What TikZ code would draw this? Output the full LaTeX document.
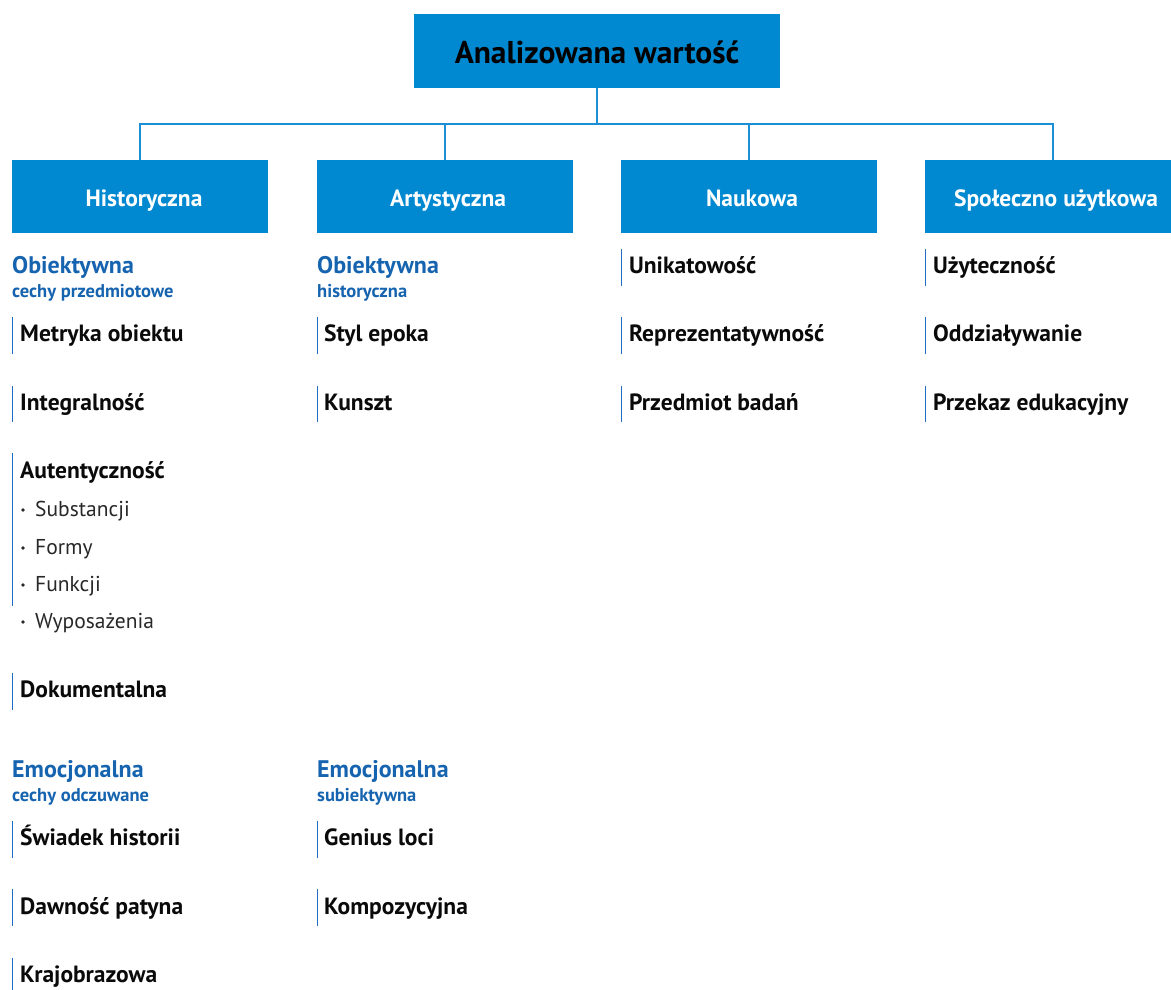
\documentclass[tikz,border=0pt]{standalone}
\usepackage{fontspec}
\setmainfont{PT Sans}
\definecolor{boxblue}{RGB}{0,137,209}
\definecolor{lineblue}{RGB}{26,143,214}
\definecolor{secblue}{RGB}{22,100,176}
\definecolor{barblue}{RGB}{30,110,195}
\definecolor{itemtxt}{RGB}{10,10,10}
\definecolor{subtxt}{RGB}{40,40,40}
\begin{document}
\begin{tikzpicture}[x=1pt,y=-1pt,
  topbox/.style={fill=boxblue,minimum width=366pt,minimum height=74pt,inner sep=0pt},
  headbox/.style={fill=boxblue,minimum width=256pt,minimum height=73pt,inner sep=0pt},
  toptext/.style={anchor=base,inner sep=0pt,text=black,font=\fontsize{31.5}{34}\selectfont\bfseries},
  headtext/.style={anchor=base,inner sep=0pt,text=white,font=\fontsize{23.5}{26}\selectfont\bfseries},
  conn/.style={draw=lineblue,line width=2.4pt},
  sectitle/.style={anchor=base west,inner sep=0pt,text=secblue,font=\fontsize{24}{26}\selectfont\bfseries},
  secsub/.style={anchor=base west,inner sep=0pt,text=secblue,font=\fontsize{18.5}{20}\selectfont\bfseries},
  itemtext/.style={anchor=base west,inner sep=0pt,text=itemtxt,font=\fontsize{23.5}{26}\selectfont\bfseries},
  subitem/.style={anchor=base west,inner sep=0pt,text=subtxt,font=\fontsize{21.5}{24}\selectfont},
  bulletdot/.style={circle,fill=subtxt,inner sep=0pt,minimum size=3.6pt},
  bar/.style={draw=barblue,line width=1.5pt}
]
\clip (0,0) rectangle (1171,989);
\fill[white] (0,0) rectangle (1171,989);

% top box
\node[topbox] (top) at (597,51) {};
\node[toptext] (toplabel) at (597,63) {Analizowana wartość};
% headers
\node[headbox] (h1) at (140,196.5) {};
\node[headbox] (h2) at (445,196.5) {};
\node[headbox] (h3) at (749,196.5) {};
\node[headbox] (h4) at (1053,196.5) {};
\node[headtext] (t1) at (144,206) {Historyczna};
\node[headtext] (t2) at (448,206) {Artystyczna};
\node[headtext] (t3) at (752,206) {Naukowa};
\node[headtext] (t4) at (1056,206) {Społeczno użytkowa};

% connectors
\coordinate (bus) at (597,124);
\draw[conn] (top.south) -- (bus);
\draw[conn] (h1.north) |- (bus) -| (h4.north);
\draw[conn] (h2.north) -- (h2.north |- bus);
\draw[conn] (h3.north) -- (h3.north |- bus);

% column 1
\node[sectitle] (s1a) at (12,273) {Obiektywna};
\node[secsub] (s1b) at (12,297) {cechy przedmiotowe};
\node[itemtext] (i11) at (20,341) {Metryka obiektu};
\node[itemtext] (i12) at (20,410) {Integralność};
\node[itemtext] (i13) at (20,478) {Autentyczność};
\node[bulletdot] (b1) at (23,510) {};
\node[subitem] (u1) at (35,516) {Substancji};
\node[bulletdot] (b2) at (23,548) {};
\node[subitem] (u2) at (35,554) {Formy};
\node[bulletdot] (b3) at (23,585) {};
\node[subitem] (u3) at (35,591) {Funkcji};
\node[bulletdot] (b4) at (23,622) {};
\node[subitem] (u4) at (35,628) {Wyposażenia};
\node[itemtext] (i14) at (20,697) {Dokumentalna};
\node[sectitle] (s1c) at (12,777) {Emocjonalna};
\node[secsub] (s1d) at (12,801) {cechy odczuwane};
\node[itemtext] (i15) at (20,845) {Świadek historii};
\node[itemtext] (i16) at (20,914) {Dawność patyna};
\node[itemtext] (i17) at (20,982) {Krajobrazowa};
\draw[bar] (12.5,317) -- (12.5,354);
\draw[bar] (12.5,386) -- (12.5,422);
\draw[bar] (12.5,453) -- (12.5,606);
\draw[bar] (12.5,673) -- (12.5,710);
\draw[bar] (12.5,821) -- (12.5,858);
\draw[bar] (12.5,889) -- (12.5,926);
\draw[bar] (12.5,958) -- (12.5,995);

% column 2
\node[sectitle] (s2a) at (317,273) {Obiektywna};
\node[secsub] (s2b) at (317,297) {historyczna};
\node[itemtext] (i21) at (324,341) {Styl epoka};
\node[itemtext] (i22) at (324,410) {Kunszt};
\node[sectitle] (s2c) at (317,777) {Emocjonalna};
\node[secsub] (s2d) at (317,801) {subiektywna};
\node[itemtext] (i23) at (324,845) {Genius loci};
\node[itemtext] (i24) at (324,914) {Kompozycyjna};
\draw[bar] (317.5,317) -- (317.5,354);
\draw[bar] (317.5,386) -- (317.5,422);
\draw[bar] (317.5,821) -- (317.5,858);
\draw[bar] (317.5,889) -- (317.5,926);

% column 3
\node[itemtext] (i31) at (629,273) {Unikatowość};
\node[itemtext] (i32) at (629,341) {Reprezentatywność};
\node[itemtext] (i33) at (629,410) {Przedmiot badań};
\draw[bar] (621.5,249) -- (621.5,286);
\draw[bar] (621.5,317) -- (621.5,354);
\draw[bar] (621.5,386) -- (621.5,422);

% column 4
\node[itemtext] (i41) at (933,273) {Użyteczność};
\node[itemtext] (i42) at (933,341) {Oddziaływanie};
\node[itemtext] (i43) at (933,410) {Przekaz edukacyjny};
\draw[bar] (925.5,249) -- (925.5,286);
\draw[bar] (925.5,317) -- (925.5,354);
\draw[bar] (925.5,386) -- (925.5,422);
\end{tikzpicture}
\end{document}
